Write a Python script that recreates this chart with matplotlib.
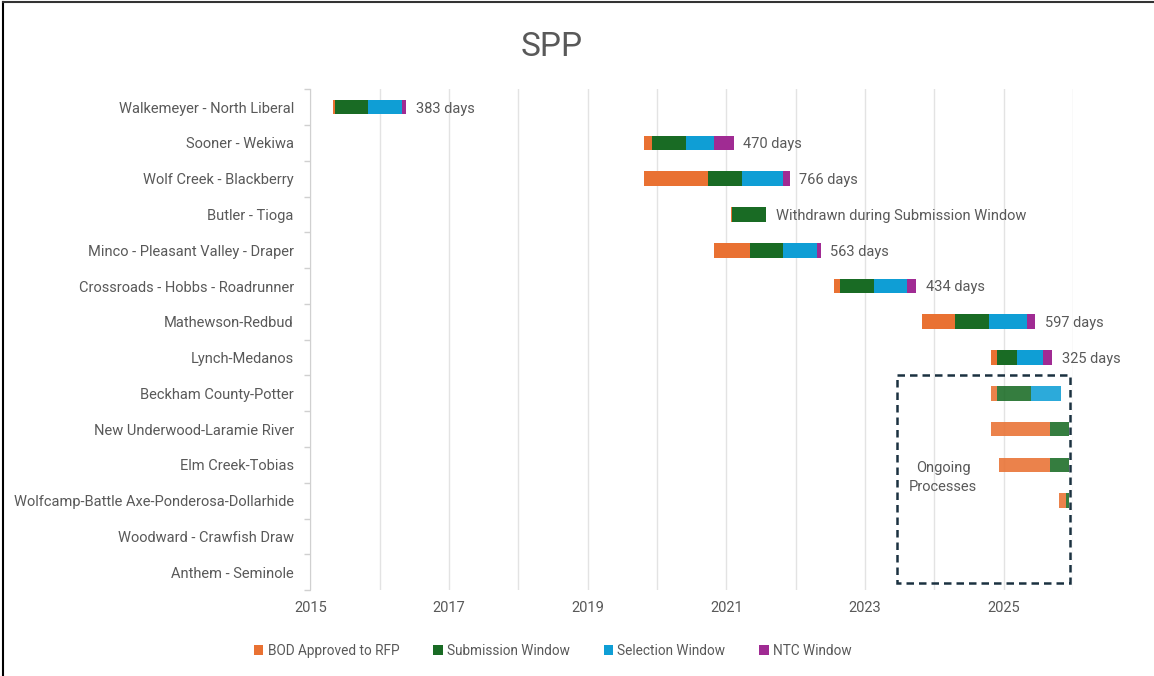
import matplotlib as mpl
import matplotlib.pyplot as plt
from matplotlib.lines import Line2D
from matplotlib.patches import Rectangle, Patch

mpl.rcParams['font.family'] = ['Roboto', 'DejaVu Sans']
mpl.rcParams['font.size'] = 10.5
mpl.rcParams['text.color'] = '#595959'

projects = ["Walkemeyer - North Liberal", "Sooner - Wekiwa", "Wolf Creek - Blackberry",
            "Butler - Tioga", "Minco - Pleasant Valley - Draper",
            "Crossroads - Hobbs - Roadrunner", "Mathewson-Redbud", "Lynch-Medanos",
            "Beckham County-Potter", "New Underwood-Laramie River", "Elm Creek-Tobias",
            "Wolfcamp-Battle Axe-Ponderosa-Dollarhide", "Woodward - Crawfish Draw",
            "Anthem - Seminole"]

# start of each process (decimal year), phase lengths in days
start = [2015.329, 2019.817, 2019.817, 2021.068, 2020.818, 2022.554, 2023.820,
         2024.815, 2024.815, 2024.815, 2024.930, 2025.800, None, None]
bod = [7, 41, 336, 7, 190, 32, 177, 35, 35, 311, 269, 37, 0, 0]
submission = [177, 179, 181, 179, 177, 179, 179, 105, 179, 103, 103, 16, 0, 0]
selection = [176, 146, 213, 0, 179, 176, 197, 137, 157, 0, 0, 0, 0, 0]
ntc = [23, 104, 36, 0, 17, 47, 44, 48, 0, 0, 0, 0, 0, 0]
ongoing = [False] * 8 + [True] * 6

bar_labels = ["383 days", "470 days", "766 days", "Withdrawn during Submission Window",
              "563 days", "434 days", "597 days", "325 days",
              "", "", "", "", "", ""]

phases = ["BOD Approved to RFP", "Submission Window", "Selection Window", "NTC Window"]
colors = ['#E97132', '#196B24', '#0F9ED5', '#A02B93']

fig = plt.figure(figsize=(11.54, 6.76), dpi=100)
ax = fig.add_axes([0.269, 0.127, 0.6607, 0.741])

for i, s in enumerate(start):
    if s is None:
        continue
    left = s
    alpha = 0.88 if ongoing[i] else 1.0
    for lengths, c in zip([bod, submission, selection, ntc], colors):
        w = lengths[i] / 365.25
        if w > 0:
            ax.barh(i, w, left=left, height=0.41, color=c, alpha=alpha, linewidth=0)
        left += w
    if bar_labels[i]:
        ax.annotate(bar_labels[i], (left, i), xytext=(7, -1), textcoords='offset points',
                    va='center', ha='left', fontsize=10.5, color='#595959')

ax.set_ylim(len(projects) - 0.5, -0.5)
ax.set_yticks(range(len(projects)))
ax.set_yticklabels(projects)
ax.set_yticks([k + 0.5 for k in range(-1, len(projects))], minor=True)
ax.tick_params(axis='y', which='major', length=0, pad=12, labelcolor='#595959', labelsize=10.5)
ax.tick_params(axis='y', which='minor', length=4, color='#d0d0d0', width=1)

ax.set_xlim(2015, 2026)
ax.set_xticks(range(2015, 2027, 2))
ax.set_xticks(range(2015, 2027), minor=True)
ax.tick_params(axis='x', which='both', length=0, pad=8, labelcolor='#595959', labelsize=10.5)
ax.grid(axis='x', which='both', color='#e3e3e3', linewidth=1)
ax.set_axisbelow(True)
for side in ['top', 'right', 'bottom']:
    ax.spines[side].set_visible(False)
ax.spines['left'].set_color('#d0d0d0')

# dashed box around ongoing processes
box = Rectangle((2023.459, 7.5), 2025.96 - 2023.459, 5.8, fill=False,
                edgecolor='#1B3140', linestyle=(0, (3, 2)), linewidth=1.8, clip_on=False)
ax.add_patch(box)
ax.text(2024.13, 10.35, "Ongoing\nProcesses", ha='center', va='center',
        fontsize=10.5, color='#595959', linespacing=1.4)

fig.text(0.478, 0.93, "SPP", ha='center', va='center', fontsize=24, color='#595959')

handles = [Patch(facecolor=c, edgecolor='none') for c in colors]
fig.legend(handles, phases, loc='center', bbox_to_anchor=(0.479, 0.037), ncol=4,
           frameon=False, handlelength=0.7, handleheight=0.7, handletextpad=0.3,
           columnspacing=2.5, fontsize=9.8, labelcolor='#595959')

# outer frame of the chart area
fig.add_artist(Line2D([0.0026, 0.0026], [0, 0.997], color='black', linewidth=1.5))
fig.add_artist(Line2D([0.0026, 1], [0.997, 0.997], color='#333333', linewidth=1.5))

fig.savefig("out.png", dpi=100)
